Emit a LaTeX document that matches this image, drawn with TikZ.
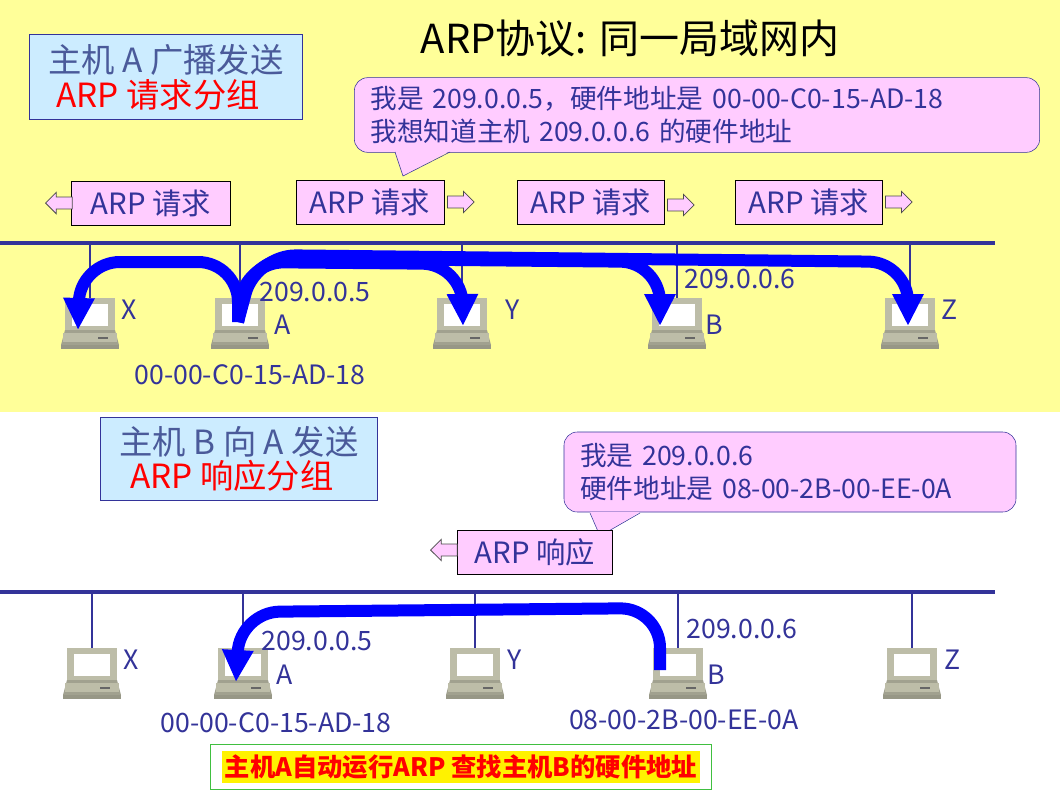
\documentclass[tikz,border=0pt]{standalone}
\usepackage{fontspec}
\setmainfont{Noto Sans CJK SC}
\usetikzlibrary{arrows.meta,shapes.arrows,shapes.callouts}
\definecolor{nb}{HTML}{333399}
\definecolor{yel}{HTML}{FFFF99}
\definecolor{lb}{HTML}{CCECFF}
\definecolor{pk}{HTML}{FFCCFF}
\definecolor{gb}{HTML}{4A5A9A}
\definecolor{pcg}{HTML}{BDBDA8}
\begin{document}
\begin{tikzpicture}[x=0.75pt,y=-0.75pt,
  txt/.style={text=nb,font=\fontsize{20}{22}\selectfont,inner sep=0},
  titlebox/.style={draw=nb,fill=lb,align=left,inner sep=4pt,font=\fontsize{25}{28}\selectfont},
  callbox/.style={draw=nb,fill=pk,rounded corners=10pt,align=left,text=nb,font=\fontsize{20}{25}\selectfont,inner xsep=12pt,inner ysep=4pt},
  arpbox/.style={draw=black,fill=pk,text=nb,font=\fontsize{22}{24}\selectfont,minimum height=33pt,inner xsep=6pt},
  harrow/.style={single arrow,draw=black!70,fill=pk,minimum height=20pt,minimum width=16pt,single arrow head extend=3pt,inner sep=3.5pt,line width=0.6pt},
  bus/.style={draw=nb,line width=3pt},
  drop/.style={draw=nb,line width=1.5pt},
  flow/.style={draw=blue,line width=9pt,-{Triangle[length=24pt,width=22pt]},rounded corners=30pt},
  pc/.pic={
    \fill[pcg] (-25,-22) rectangle (25,10);
    \fill[white] (-18,-16) rectangle (18,6);
    \fill[pcg!85!black] (-25,10) -- (25,10) -- (29,25) -- (-29,25) -- cycle;
    \fill[pcg] (-27,13) rectangle (27,22);
    \draw[black!60,line width=1pt] (8,18) -- (18,18);
    \fill[pcg!80!black] (-29,25) rectangle (29,29);
  }]
\useasboundingbox (0,0) rectangle (1060,799);
\fill[white] (0,0) rectangle (1060,799);
\fill[yel] (0,0) rectangle (1060,412);

% ---------- top ----------
\node[text=black,font=\fontsize{30}{32}\selectfont] (title) at (630,38) {ARP协议: 同一局域网内};
\node[titlebox,minimum width=205pt,minimum height=64pt] (tb1) at (166,77) {\textcolor{gb}{主机 A 广播发送}\\[-2pt]\hspace*{6pt}\textcolor{red}{ARP 请求分组}};
\node[callbox,text width=490pt,minimum height=56pt] (cb1) at (697,115) {我是 209.0.0.5，硬件地址是 00-00-C0-15-AD-18\\我想知道主机 209.0.0.6 的硬件地址};
\coordinate (cp1) at (403,176);
\fill[pk] (395,151) -- (cp1) -- (450,151) -- cycle;
\draw[nb] (395,152) -- (cp1) -- (450,152);

\node[arpbox,minimum width=119pt] (r1) at (151,203) {ARP 请求};
\node[arpbox,minimum width=111pt] (r2) at (370,202) {ARP 请求};
\node[arpbox,minimum width=110pt] (r3) at (591,202) {ARP 请求};
\node[arpbox,minimum width=110pt] (r4) at (809,202) {ARP 请求};
\node[harrow,shape border rotate=180,anchor=tip] (a1) at (45,203) {};
\node[harrow,anchor=tail] (a2) at (447,202) {};
\node[harrow,anchor=tail] (a3) at (667,205) {};
\node[harrow,anchor=tail] (a4) at (885,202) {};

\coordinate (busL1) at (0,243); \coordinate (busR1) at (995,243);
\draw[bus] (busL1) -- (busR1);
\foreach \n/\x in {X/90,A/240,Y/462,B/677,Z/910}{
  \coordinate (t\n) at (\x,243);
  \node[inner sep=0,minimum size=40pt] (p\n) at (\x,320) {};
  \draw[drop] (t\n) -- (\x,298);
  \pic at (p\n) {pc};
}
\node[txt] (lX) at (129,310) {X};
\node[txt] (lA) at (283,325) {A};
\node[txt] (ipA) at (315,292) {209.0.0.5};
\node[txt] (lY) at (513,310) {Y};
\node[txt] (lB) at (714,325) {B};
\node[txt] (ipB) at (740,279) {209.0.0.6};
\node[txt] (lZ) at (950,310) {Z};
\node[txt] (macA) at (250,375) {00-00-C0-15-AD-18};

\coordinate (sA) at (238,322);
\draw[flow] (sA) -- (238,262) -- (80,262) -- (78,330);
\draw[flow] (sA) -- (244,262) -- (462,264) -- (463,326);
\draw[flow] (sA) -- (250,258) -- (660,262) -- (660,326);
\draw[flow] (sA) -- (256,255) -- (908,262) -- (908,326);

% ---------- bottom ----------
\node[titlebox,minimum width=208pt,minimum height=62pt] (tb2) at (239,459) {\textcolor{gb}{主机 B 向 A 发送}\\[-2pt]\hspace*{8pt}\textcolor{red}{ARP 响应分组}};
\node[callbox,text width=315pt,minimum height=60pt] (cb2) at (790,472) {我是 209.0.0.6\\硬件地址是 08-00-2B-00-EE-0A};
\coordinate (cp2) at (600,536);
\fill[pk] (590,512) -- (cp2) -- (640,512) -- cycle;
\draw[nb] (590,513) -- (cp2) -- (640,513);
\node[arpbox,minimum width=116pt] (rr) at (535,552) {ARP 响应};
\node[harrow,shape border rotate=180,anchor=tip] (ar) at (430,550) {};

\coordinate (busL2) at (0,592); \coordinate (busR2) at (995,592);
\draw[bus] (busL2) -- (busR2);
\foreach \n/\x in {X/92,A/243,Y/475,B/678,Z/912}{
  \coordinate (u\n) at (\x,592);
  \node[inner sep=0,minimum size=40pt] (q\n) at (\x,670) {};
  \draw[drop] (u\n) -- (\x,648);
  \pic at (q\n) {pc};
}
\node[txt] (mX) at (131,660) {X};
\node[txt] (mA) at (285,675) {A};
\node[txt] (ipA2) at (317,641) {209.0.0.5};
\node[txt] (mY) at (515,660) {Y};
\node[txt] (mB) at (716,675) {B};
\node[txt] (ipB2) at (742,629) {209.0.0.6};
\node[txt] (mZ) at (953,660) {Z};
\node[txt] (macA2) at (276,723) {00-00-C0-15-AD-18};
\node[txt] (macB2) at (684,720) {08-00-2B-00-EE-0A};

\coordinate (sB) at (660,670);
\draw[flow] (sB) -- (660,608) -- (240,612) -- (236,682);

\node[draw=green!50!gray,line width=1.2pt,fill=white,minimum width=376pt,minimum height=34pt] (note) at (461,767) {};
\node[fill=yellow,text=red,font=\bfseries\fontsize{19}{22}\selectfont,inner xsep=2pt,inner ysep=3pt] (notet) at (461,767) {主机A自动运行ARP 查找主机B的硬件地址};
\end{tikzpicture}
\end{document}
